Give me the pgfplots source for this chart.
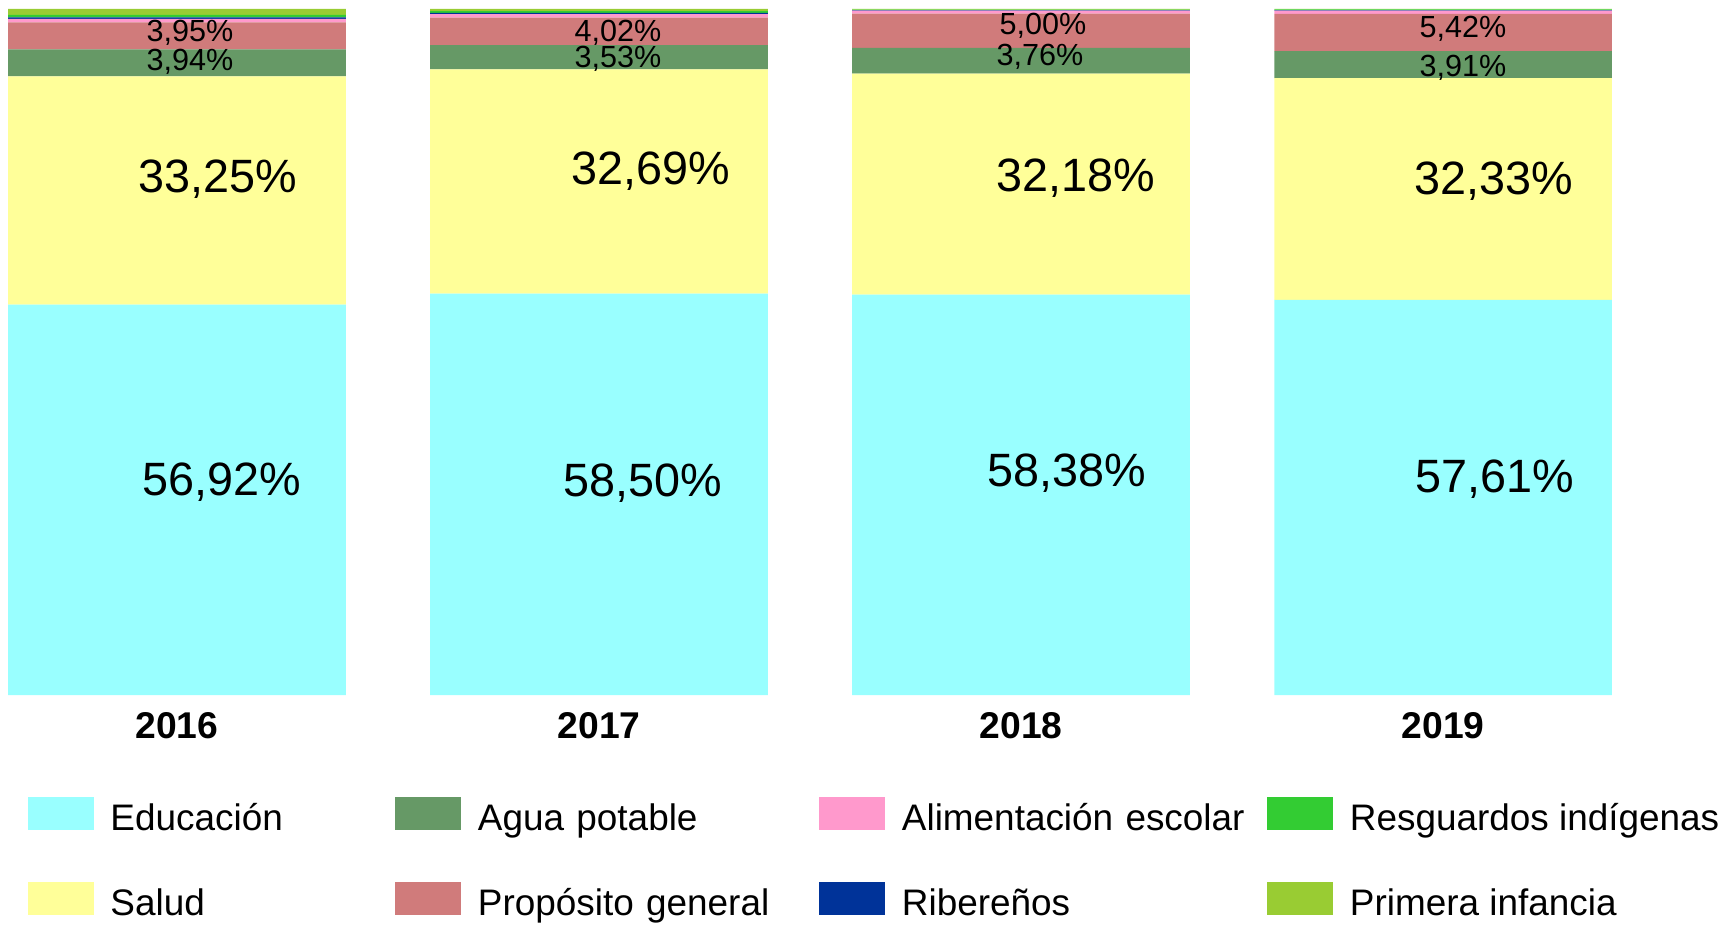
\documentclass[border=0pt]{standalone}
\usepackage{fontspec}
\setmainfont{Liberation Sans}
\usepackage{pgfplots}
\pgfplotsset{compat=1.18}
\definecolor{cEdu}{HTML}{99FFFF}
\definecolor{cSal}{HTML}{FFFF99}
\definecolor{cAgua}{HTML}{669966}
\definecolor{cProp}{HTML}{D07B7B}
\definecolor{cAlim}{HTML}{FF99CC}
\definecolor{cRib}{HTML}{003399}
\definecolor{cResg}{HTML}{33CC33}
\definecolor{cPrim}{HTML}{99CC33}
\begin{document}
\begin{tikzpicture}
\useasboundingbox (0,-22.9mm) rectangle (173mm,69.5mm);
\pgfplotsset{common/.style={scale only axis, width=173mm, height=68.6mm,
  xmin=-0.4194, xmax=3.680, ymin=0, ymax=100, at={(0,0)}, anchor=south west, clip=false}}
\begin{axis}[common, ybar stacked, bar width=0.8,
  axis line style={draw=none}, ytick=\empty,
  xtick={0,1,2,3}, xticklabels={\textbf{2016},\textbf{2017},\textbf{2018},\textbf{2019}},
  major tick length=0pt,
  xticklabel style={font=\fontsize{10.6}{12}\selectfont\bfseries, yshift=-0.5mm}]
\addplot[fill=cEdu, draw=none] coordinates {(0,56.92) (1,58.50) (2,58.38) (3,57.61)};
\addplot[fill=cSal, draw=none] coordinates {(0,33.25) (1,32.69) (2,32.18) (3,32.33)};
\addplot[fill=cAgua, draw=none] coordinates {(0,3.94) (1,3.53) (2,3.76) (3,3.91)};
\addplot[fill=cProp, draw=none] coordinates {(0,3.95) (1,4.02) (2,5.00) (3,5.42)};
\addplot[fill=cAlim, draw=none] coordinates {(0,0.50) (1,0.50) (2,0.45) (3,0.50)};
\addplot[fill=cRib, draw=none] coordinates {(0,0.20) (1,0.20) (2,0.05) (3,0.08)};
\addplot[fill=cResg, draw=none] coordinates {(0,0.40) (1,0.26) (2,0.08) (3,0.10)};
\addplot[fill=cPrim, draw=none] coordinates {(0,0.84) (1,0.30) (2,0.10) (3,0.05)};
\end{axis}
\begin{axis}[common, hide axis,
  legend columns=4, legend cell align=left,
  legend image code/.code={\fill[#1, draw=none] (0mm,-1.25mm) rectangle (6.6mm,2.05mm);},
  legend style={at={(0.01618,-0.1487)}, anchor=north west, draw=none, fill=none,
    inner sep=0pt, outer sep=0pt, row sep=4.4mm, column sep=0pt,
    font=\fontsize{10.5}{12}\selectfont,
    nodes={inner sep=0pt, text height=3.3mm, text depth=0.8mm},
    /tikz/every odd column/.style={column sep=1.65mm},
    /tikz/column 2/.style={text width=28.5mm},
    /tikz/column 4/.style={text width=34.15mm},
    /tikz/column 6/.style={text width=36.55mm}}]
\addlegendimage{fill=cEdu}
\addlegendentry{Educación}
\addlegendimage{fill=cAgua}
\addlegendentry{Agua potable}
\addlegendimage{fill=cAlim}
\addlegendentry{Alimentación escolar}
\addlegendimage{fill=cResg}
\addlegendentry{Resguardos indígenas}
\addlegendimage{fill=cSal}
\addlegendentry{Salud}
\addlegendimage{fill=cProp}
\addlegendentry{Propósito general}
\addlegendimage{fill=cRib}
\addlegendentry{Ribereños}
\addlegendimage{fill=cPrim}
\addlegendentry{Primera infancia}
\addplot[draw=none, mark=none, forget plot, nodes near coords, point meta=explicit symbolic,
  every node near coord/.append style={font=\fontsize{13.3}{16}\selectfont, anchor=center, inner sep=0pt, text=black}]
  coordinates {(0.107,31.05) [56,92\%] (0.097,75.2) [33,25\%]
               (1.104,30.9) [58,50\%] (1.123,76.4) [32,69\%]
               (2.109,32.4) [58,38\%] (2.130,75.4) [32,18\%]
               (3.123,31.5) [57,61\%] (3.121,74.9) [32,33\%]};
\addplot[draw=none, mark=none, forget plot, nodes near coords, point meta=explicit symbolic,
  every node near coord/.append style={font=\fontsize{8.7}{10}\selectfont, anchor=center, inner sep=0pt, text=black}]
  coordinates {(0.031,96.5) [3,95\%] (0.031,92.3) [3,94\%]
               (1.045,96.5) [4,02\%] (1.045,92.8) [3,53\%]
               (2.052,97.5) [5,00\%] (2.045,93.0) [3,76\%]
               (3.047,97.1) [5,42\%] (3.047,91.4) [3,91\%]};
\end{axis}
\end{tikzpicture}
\end{document}
